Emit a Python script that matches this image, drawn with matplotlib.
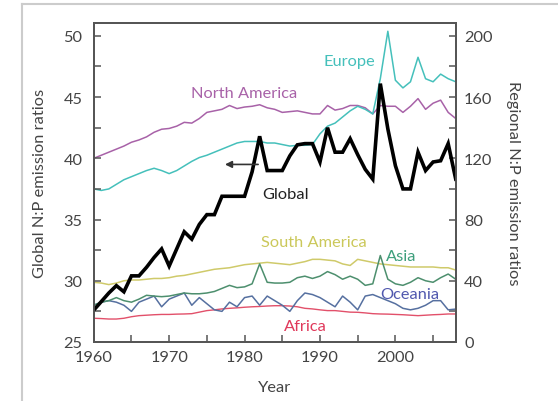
import matplotlib
matplotlib.use("Agg")
import matplotlib.pyplot as plt
from matplotlib.lines import Line2D
from matplotlib.ticker import MultipleLocator

plt.rcParams['font.family'] = ['Lato', 'DejaVu Sans']

years = list(range(1960, 2009))

# Global N:P emission ratio (left axis)
global_np = [27.6, 28.3, 29.0, 29.6, 29.1, 30.4, 30.4, 31.1, 31.9, 32.6,
             31.2, 32.6, 34.0, 33.4, 34.6, 35.4, 35.4, 36.9, 36.9, 36.9,
             36.9, 38.9, 41.8, 39.0, 39.0, 39.0, 40.2, 41.1, 41.2, 41.2,
             39.7, 42.5, 40.5, 40.5, 41.6, 40.3, 39.1, 38.3, 46.1, 42.4,
             39.4, 37.5, 37.5, 40.5, 39.0, 39.7, 39.8, 41.2, 38.3]

# Regional N:P emission ratios (right axis)
europe = [100, 99, 100, 103, 106, 108, 110, 112, 113.5, 112,
          110, 112, 115, 118, 120.5, 122, 124, 126, 128, 130,
          131, 131, 131, 130, 130, 129, 128, 128.5, 128.5, 129,
          136, 141, 143, 147, 151, 154, 152, 149, 172, 203,
          171, 166, 170, 186, 172, 170, 175, 172, 170]
north_america = [120, 122, 124, 126, 128, 130.5, 132, 134, 137, 139,
                 139.5, 141, 143.5, 143, 146, 150, 151, 152, 154.5, 152.5,
                 153.5, 154, 155, 153, 152, 150, 150.5, 151, 150, 149,
                 149, 154.5, 151.5, 152.5, 154.5, 154.5, 153, 149, 154.5, 154,
                 154, 150, 154, 159, 152, 156, 158, 150, 146]
south_america = [39, 38.5, 37.5, 38.5, 40, 40.5, 40.5, 41, 41.5, 41.5,
                 42, 43, 43.5, 44.5, 45.5, 46.5, 47.5, 48, 48.5, 49.5,
                 50.5, 51, 51.5, 52, 51.5, 51, 50.5, 51.5, 52.5, 54,
                 54, 53.5, 53, 51, 50, 54, 53, 52, 51, 50.5,
                 50, 49.5, 49, 49, 49, 49, 48.5, 48.5, 47]
asia = [24, 26, 27, 29, 27, 26, 28, 30.5, 30, 29.6,
        30, 31, 32, 31.5, 31.5, 32, 33, 35, 37, 35.5,
        36, 38, 51, 39, 38.5, 38.5, 39, 42, 43, 41.5,
        43, 46, 44, 41, 43, 41, 37, 38, 56.5, 41,
        38, 37, 39, 42, 40, 39, 42, 44.4, 41]
oceania = [24, 26, 27, 26, 24, 20, 26, 28, 30, 23,
           28, 30, 32, 24, 29, 25, 21, 20, 26, 23,
           29, 30, 24, 30, 27, 24, 20, 27, 32, 31,
           29, 26, 23, 30, 26, 21, 30, 31, 29, 27,
           25, 22, 21, 22, 24, 27, 27, 21, 21.5]
africa = [15.5, 15.3, 15, 15, 15.5, 16.5, 17.2, 17.5, 17.8, 18,
          18, 18.2, 18.3, 18.5, 19.5, 20.5, 21, 21.6, 22, 22.3,
          22.7, 23, 23.2, 23.5, 23.7, 23.7, 23.5, 23, 22, 21.6,
          21, 20.5, 20.5, 20, 19.5, 19.4, 19, 18.5, 18.3, 18.2,
          18, 17.8, 17.5, 17.2, 17.5, 17.8, 18, 18.3, 18.3]

x_ticks = [1960, 1970, 1980, 1990, 2000]
left_ticks = [25, 30, 35, 40, 45, 50]
right_ticks = [0, 40, 80, 120, 160, 200]

c_europe = '#45c0bb'
c_na = '#a862a8'
c_sa = '#cfca6a'
c_asia = '#4d8f6e'
c_oceania = '#5670a0'
c_africa = '#e2506a'
c_text = '#444444'
c_spine = '#555555'
fs = 11.8

fig = plt.figure(figsize=(5.58, 4.02), dpi=100)
ax = fig.add_axes([0.168, 0.1468, 0.6487, 0.7935])
ax2 = ax.twinx()

# regional series on the right axis
ax2.plot(years, africa, color=c_africa, lw=1.0)
ax2.plot(years, south_america, color=c_sa, lw=1.1)
ax2.plot(years, oceania, color=c_oceania, lw=1.1)
ax2.plot(years, asia, color=c_asia, lw=1.1)
ax2.plot(years, north_america, color=c_na, lw=1.1)
ax2.plot(years, europe, color=c_europe, lw=1.1)

# global series on the left axis, drawn above the regional lines
ax.set_zorder(ax2.get_zorder() + 1)
ax.patch.set_visible(False)
ax.plot(years, global_np, color='black', lw=2.6, solid_joinstyle='miter')

ax.set_xlim(1960, 2008)
ax.set_ylim(25, 51.05)
ax2.set_ylim(0, (51.05 - 25) * 8)

ax.set_xticks(x_ticks)
ax.xaxis.set_minor_locator(MultipleLocator(5))
ax.set_yticks(left_ticks)
ax.yaxis.set_minor_locator(MultipleLocator(2.5))
ax2.set_yticks(right_ticks)
ax2.yaxis.set_minor_locator(MultipleLocator(20))

for a in (ax, ax2):
    for s in a.spines.values():
        s.set_color(c_spine)
        s.set_linewidth(1.3)
ax.tick_params(axis='both', which='both', direction='in', color=c_spine,
               width=1.1, length=5, labelsize=fs, labelcolor=c_text)
ax.tick_params(axis='y', which='both', pad=8, right=False)
ax.tick_params(axis='x', which='both', pad=6, top=False)
ax2.tick_params(axis='y', which='both', direction='in', color=c_spine,
                width=1.1, length=5, labelsize=fs, labelcolor=c_text, pad=6)

ax.set_xlabel('Year', fontsize=fs, color=c_text, labelpad=11)
ax.set_ylabel('Global N:P emission ratios', fontsize=fs, color=c_text, labelpad=12)
ax2.set_ylabel('Regional N:P emission ratios', fontsize=fs, color=c_text,
               rotation=270, labelpad=20)

# series labels
lab = dict(fontsize=fs, ha='center', va='center')
ax2.text(1993.9, 183.7, 'Europe', color=c_europe, **lab)
ax2.text(1980.0, 162.7, 'North America', color=c_na, **lab)
ax2.text(1989.2, 65.4, 'South America', color='#cbc85a', **lab)
ax2.text(2000.8, 56.2, 'Asia', color='#3d9f7c', **lab)
ax2.text(2001.9, 31.4, 'Oceania', color='#5058ae', **lab)
ax2.text(1988.0, 10.5, 'Africa', color='#e0385a', **lab)
ax.text(1985.5, 37.1, 'Global', color='#222222', **lab)
ax.annotate('', xy=(1977.4, 39.5), xytext=(1981.8, 39.5),
            arrowprops=dict(arrowstyle='-|>', color='#333333', lw=1.2,
                            mutation_scale=10, shrinkA=0, shrinkB=0))

# light frame around the panel
fig.add_artist(Line2D([0.0394, 0.0394], [0.0, 0.9876], transform=fig.transFigure,
                      color='#cccccc', lw=1.5))
fig.add_artist(Line2D([0.0394, 1.0], [0.9876, 0.9876], transform=fig.transFigure,
                      color='#cccccc', lw=1.5))

fig.savefig('out.png', dpi=100)
